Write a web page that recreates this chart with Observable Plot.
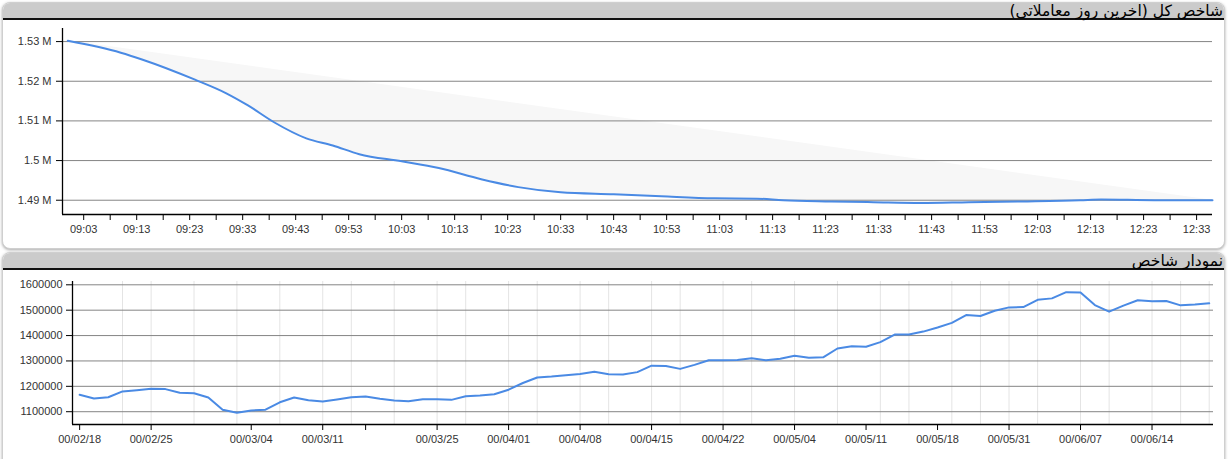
<!DOCTYPE html>
<html>
<head>
<meta charset="utf-8">
<script src="https://cdn.jsdelivr.net/npm/d3@7"></script>
<script src="https://cdn.jsdelivr.net/npm/@observablehq/plot@0.6"></script>
<style>
  html, body { margin: 0; padding: 0; background: #fff; width: 1230px; height: 459px; overflow: hidden; position: relative; }
  .panel { position: absolute; left: 2px; width: 1221px; border: 1px solid #cfcfcf; border-radius: 8px; background: #fff; box-shadow: 0 1px 3px rgba(0,0,0,0.35); overflow: hidden; }
  .hdr { position: relative; height: 15px; background: #cbcbcb; border-bottom: 2px solid #111; color: #000; }
  .ttl { position: absolute; right: 1px; top: -1px; direction: rtl; white-space: nowrap; font-family: "DejaVu Sans", sans-serif; font-size: 15.5px; line-height: 18px; }
  .chart { position: absolute; left: 0; }
</style>
</head>
<body>
<div class="panel" style="top:2px;height:245px;"><div class="hdr"><span class="ttl">شاخص کل (آخرین روز معاملاتی)</span></div></div>
<div class="panel" style="top:252px;height:240px;"><div class="hdr"><span class="ttl">نمودار شاخص</span></div></div>
<div id="top" class="chart" style="top:20px;"></div>
<div id="bottom" class="chart" style="top:272px;"></div>
<script>
// ---- Top chart data (last trading day, intraday) ----
const topTimes = ["09:00","09:10","09:14","09:24","09:30","09:34","09:39","09:45","09:50","09:55",
  "10:03","10:10","10:18","10:25","10:33","10:43","10:52","11:02","11:10","11:15",
  "11:24","11:32","11:41","11:50","12:00","12:11","12:15","12:25","12:36"];
const topValues = [1530200,1527200,1525500,1520400,1516900,1513900,1509600,1505600,1503800,1501600,
  1499800,1498100,1495300,1493300,1492000,1491500,1491000,1490500,1490400,1490000,
  1489700,1489500,1489300,1489500,1489700,1490000,1490200,1490000,1490000];
// diagonal bounding the light shaded region (first to last value)
const shadeTimes = ["09:00","12:36"];
const shadeValues = [1530200,1490000];
const topYTicks = [1490000,1500000,1510000,1520000,1530000];
const topTickLabels = ["09:03","09:13","09:23","09:33","09:43","09:53","10:03","10:13","10:23","10:33","10:43",
  "10:53","11:03","11:13","11:23","11:33","11:43","11:53","12:03","12:13","12:23","12:33"];
const topXDomain = ["08:59","12:36"];
const topYDomain = [1486400,1533300];

// ---- Bottom chart data (daily index) ----
const bottomValues = [1166700,1152000,1157000,1180000,1185000,1190700,1189000,1174700,1173000,1156000,
  1108000,1096000,1105000,1108000,1137000,1156000,1145000,1140000,1148000,1157000,
  1160000,1150700,1144000,1141000,1149000,1149000,1146700,1161000,1164000,1169000,
  1186700,1213000,1234700,1238700,1244000,1249000,1257000,1248000,1246700,1256000,
  1281500,1280400,1268700,1284400,1302600,1302600,1304000,1310400,1302600,1309000,
  1320800,1313000,1314300,1349000,1358000,1356000,1374000,1404000,1404000,1415600,
  1432000,1450000,1481000,1477000,1498000,1511000,1512400,1541000,1546500,1571000,
  1570000,1520000,1494000,1518000,1539000,1535000,1536000,1519000,1522000,1527000];
const bottomTickIndex = [0,5,12,17,20,25,30,35,40,45,50,55,60,65,70,75];
const bottomTickLabels = ["00/02/18","00/02/25","00/03/04","00/03/11","","00/03/25","00/04/01","00/04/08",
  "00/04/15","00/04/22","00/05/04","00/05/11","00/05/18","00/05/31","00/06/07","00/06/14"];
const bottomGridIndex = [3,5,8,11,14,17,19,22,25,27,30,32,35,37,40,42,45,47,50,53,56,58,61,63,65,67,70,72,75,77,79];
const bottomYTicks = [1100000,1200000,1300000,1400000,1500000,1600000];
const bottomXDomain = [-0.5,79.3];
const bottomYDomain = [1049600,1613000];

const lineColor = "#4a8ae4";
const parseT = s => { const [h, m] = s.split(":").map(Number); return h * 60 + m; };
const fmtT = m => String(Math.floor(m / 60)).padStart(2, "0") + ":" + String(m % 60).padStart(2, "0");
const axisStyle = { background: "transparent", fontFamily: "'Liberation Sans', Arial, sans-serif", fontSize: "11px", color: "#333", overflow: "visible" };

const topData = topTimes.map((t, i) => ({ t: parseT(t), v: topValues[i] }));
const shadeData = shadeTimes.map((t, i) => ({ t: parseT(t), v: shadeValues[i] }));
const labelTicks = topTickLabels.map(parseT);
const minorTicks = labelTicks.map(t => t + 5).filter(t => t <= parseT(topXDomain[1]));
const tx0 = parseT(topXDomain[0]), tx1 = parseT(topXDomain[1]);

const topPlot = Plot.plot({
  width: 1230, height: 228,
  marginLeft: 62, marginRight: 18, marginTop: 8, marginBottom: 34,
  style: axisStyle,
  x: { type: "linear", domain: [tx0, tx1], label: null },
  y: { domain: topYDomain, label: null },
  marks: [
    Plot.areaY(shadeData, { x: "t", y1: topYDomain[0], y2: "v", fill: "#f7f7f7" }),
    Plot.areaY(topData, { x: "t", y1: topYDomain[0], y2: "v", fill: "#ffffff", curve: "monotone-x" }),
    Plot.ruleY(topYTicks, { stroke: "#858585", strokeWidth: 1 }),
    Plot.axisY({ ticks: topYTicks, tickFormat: d => (+(d / 1e6).toFixed(2)) + " M", tickSize: 6, tickPadding: 5, stroke: "#000", label: null }),
    Plot.axisX({ ticks: minorTicks, tickFormat: () => "", tickSize: 6, stroke: "#000", label: null }),
    Plot.axisX({ ticks: labelTicks, tickFormat: fmtT, tickSize: 6, tickPadding: 5, stroke: "#000", label: null }),
    Plot.ruleX([tx0], { stroke: "#000", strokeWidth: 1.3 }),
    Plot.ruleY([topYDomain[0]], { stroke: "#000", strokeWidth: 1.3 }),
    Plot.line(topData, { x: "t", y: "v", stroke: lineColor, strokeWidth: 2, curve: "monotone-x" })
  ]
});
document.getElementById("top").appendChild(topPlot);

const bottomPlot = Plot.plot({
  width: 1230, height: 187,
  marginLeft: 72, marginRight: 17, marginTop: 9, marginBottom: 35,
  style: axisStyle,
  x: { type: "linear", domain: bottomXDomain, label: null },
  y: { domain: bottomYDomain, label: null },
  marks: [
    Plot.ruleX(bottomGridIndex, { stroke: "#e4e4e4", strokeWidth: 1 }),
    Plot.ruleY(bottomYTicks, { stroke: "#858585", strokeWidth: 1 }),
    Plot.axisY({ ticks: bottomYTicks, tickFormat: d => String(d), tickSize: 6, tickPadding: 4, stroke: "#000", label: null }),
    Plot.axisX({ ticks: bottomTickIndex, tickFormat: d => bottomTickLabels[bottomTickIndex.indexOf(d)], tickSize: 6, tickPadding: 5, stroke: "#000", label: null }),
    Plot.ruleX([bottomXDomain[0]], { stroke: "#000", strokeWidth: 1.3 }),
    Plot.ruleY([bottomYDomain[0]], { stroke: "#000", strokeWidth: 1.3 }),
    Plot.line(bottomValues, { x: (d, i) => i, y: d => d, stroke: lineColor, strokeWidth: 2 })
  ]
});
document.getElementById("bottom").appendChild(bottomPlot);
</script>
</body>
</html>
